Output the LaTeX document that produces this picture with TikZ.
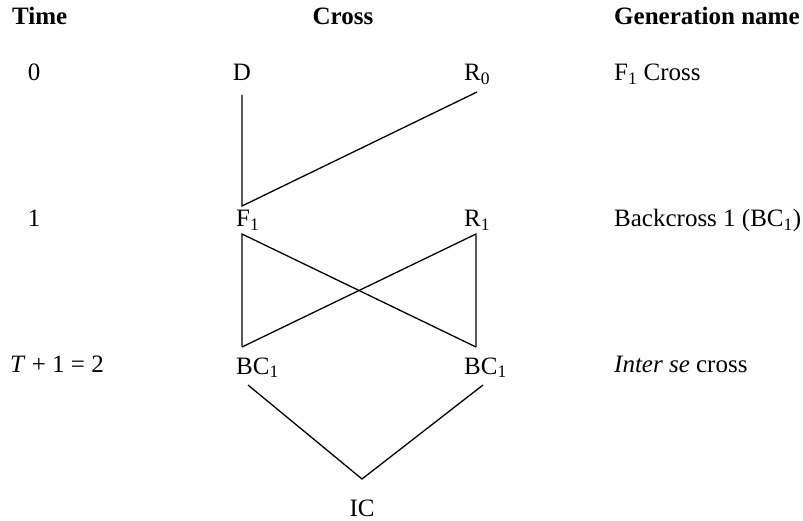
\documentclass[tikz,border=0pt]{standalone}
\usepackage{fontspec}
\setmainfont{Liberation Serif}
\begin{document}
\begin{tikzpicture}[x=1pt,y=-1pt,
  lbl/.style={inner sep=0pt, font=\fontsize{25}{30}\selectfont},
  hdr/.style={inner sep=0pt, font=\fontsize{25}{30}\selectfont\bfseries},
  link/.style={line width=1.3pt, line join=miter}]
\useasboundingbox (0,0) rectangle (803,521);
% headers
\node[hdr, anchor=base west] (hTime) at (12,25) {Time};
\node[hdr, anchor=base] (hCross) at (343,25) {Cross};
\node[hdr, anchor=base west] (hGen) at (614,25) {Generation name};
% time column
\node[lbl, anchor=base] (t0) at (34,81) {0};
\node[lbl, anchor=base] (t1) at (34,227) {1};
\node[lbl, anchor=base west] (t2) at (10,372) {\textit{T} + 1 = 2};
% generation names
\node[lbl, anchor=base west] (g0) at (614,81) {F\textsubscript{1} Cross};
\node[lbl, anchor=base west] (g1) at (614,227) {Backcross 1 (BC\textsubscript{1})};
\node[lbl, anchor=base west] (g2) at (614,372) {\textit{Inter se} cross};
% cross nodes
\node[lbl, anchor=base] (D) at (242,81) {D};
\node[lbl, anchor=base west] (R0) at (464,81) {R\textsubscript{0}};
\node[lbl, anchor=base west] (F1) at (236,227) {F\textsubscript{1}};
\node[lbl, anchor=base west] (R1) at (464,227) {R\textsubscript{1}};
\node[lbl, anchor=base west] (B1) at (236,374) {BC\textsubscript{1}};
\node[lbl, anchor=base west] (B2) at (464,374) {BC\textsubscript{1}};
\node[lbl, anchor=base] (IC) at (362,516) {IC};
% connectors
\draw[link] ([shift={(0,14)}]D.base) -- ([shift={(6,-21)}]F1.base west)
  -- ([shift={(13,11)}]R0.base west);
\draw[link] ([shift={(6,-27)}]B1.base west) -- ([shift={(6,7)}]F1.base west)
  -- ([shift={(12,-27)}]B2.base west);
\draw[link] ([shift={(6,-27)}]B1.base west) -- ([shift={(12,7)}]R1.base west)
  -- ([shift={(12,-27)}]B2.base west);
\draw[link] ([shift={(12,11)}]B1.base west) -- ([shift={(0,-37)}]IC.base)
  -- ([shift={(19,11)}]B2.base west);
\end{tikzpicture}
\end{document}
